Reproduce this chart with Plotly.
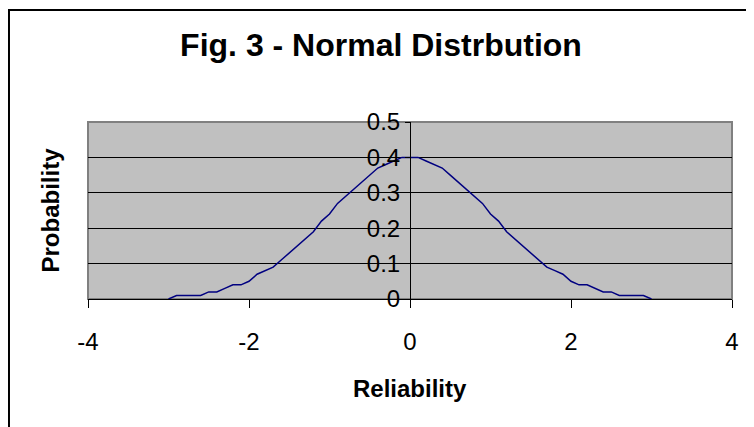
import plotly.graph_objects as go

# values (x in steps of 0.1, y to 2 decimals)
reliability = [-3.0, -2.9, -2.8, -2.7, -2.6, -2.5, -2.4, -2.3, -2.2, -2.1,
               -2.0, -1.9, -1.8, -1.7, -1.6, -1.5, -1.4, -1.3, -1.2, -1.1,
               -1.0, -0.9, -0.8, -0.7, -0.6, -0.5, -0.4, -0.3, -0.2, -0.1,
               0.0, 0.1, 0.2, 0.3, 0.4, 0.5, 0.6, 0.7, 0.8, 0.9,
               1.0, 1.1, 1.2, 1.3, 1.4, 1.5, 1.6, 1.7, 1.8, 1.9,
               2.0, 2.1, 2.2, 2.3, 2.4, 2.5, 2.6, 2.7, 2.8, 2.9, 3.0]
probability = [0.00, 0.01, 0.01, 0.01, 0.01, 0.02, 0.02, 0.03, 0.04, 0.04,
               0.05, 0.07, 0.08, 0.09, 0.11, 0.13, 0.15, 0.17, 0.19, 0.22,
               0.24, 0.27, 0.29, 0.31, 0.33, 0.35, 0.37, 0.38, 0.39, 0.40,
               0.40, 0.40, 0.39, 0.38, 0.37, 0.35, 0.33, 0.31, 0.29, 0.27,
               0.24, 0.22, 0.19, 0.17, 0.15, 0.13, 0.11, 0.09, 0.08, 0.07,
               0.05, 0.04, 0.04, 0.03, 0.02, 0.02, 0.01, 0.01, 0.01, 0.01, 0.00]

x_ticks = [-4, -2, 0, 2, 4]
x_labels = ["-4", "-2", "0", "2", "4"]
y_ticks = [0, 0.1, 0.2, 0.3, 0.4, 0.5]
y_labels = ["0", "0.1", "0.2", "0.3", "0.4", "0.5"]

FONT = "Liberation Sans, Arial, sans-serif"

fig = go.Figure()
fig.add_trace(go.Scatter(x=reliability, y=probability, mode="lines",
                         line=dict(color="#000080", width=1.5), showlegend=False))

# page body has an 8px margin, so the figure is 8px smaller and margins shifted
fig.update_layout(
    width=746, height=419,
    margin=dict(l=80, r=22, t=114, b=128),
    paper_bgcolor="white", plot_bgcolor="#C0C0C0",
    font=dict(family=FONT, color="black"),
    title=dict(text="<b>Fig. 3 - Normal Distrbution</b>", x=0.5, xanchor="center",
               y=0.912, yanchor="middle", font=dict(size=32, family=FONT)),
    xaxis=dict(range=[-4, 4], tickvals=x_ticks, ticktext=x_labels,
               showgrid=False, zeroline=False,
               showline=True, linecolor="black", linewidth=1,
               ticks="outside", ticklen=8, tickcolor="black",
               tickfont=dict(size=24), ticklabelstandoff=13),
    yaxis=dict(range=[0, 0.5], tickvals=y_ticks, ticktext=y_labels,
               anchor="free", position=0.5,
               showgrid=True, gridcolor="black", gridwidth=1, zeroline=False,
               showline=True, linecolor="black", linewidth=1,
               ticks="outside", ticklen=5, tickcolor="black",
               tickfont=dict(size=24)),
    shapes=[
        dict(type="rect", xref="paper", yref="paper", x0=0, x1=1, y0=0, y1=1,
             line=dict(color="#808080", width=2), layer="below"),
        dict(type="rect", xref="paper", yref="paper", x0=-0.1227, x1=1.5,
             y0=-1.5, y1=1.633, line=dict(color="black", width=2)),
    ],
    annotations=[
        dict(text="<b>Probability</b>", xref="paper", yref="paper", x=-0.059, y=0.5,
             xanchor="center", yanchor="middle",
             textangle=-90, showarrow=False, font=dict(size=24)),
        dict(text="<b>Reliability</b>", xref="paper", yref="paper", x=0.5, y=-0.503,
             xanchor="center", yanchor="middle",
             showarrow=False, font=dict(size=24)),
    ],
)

fig.write_html("out.html")
